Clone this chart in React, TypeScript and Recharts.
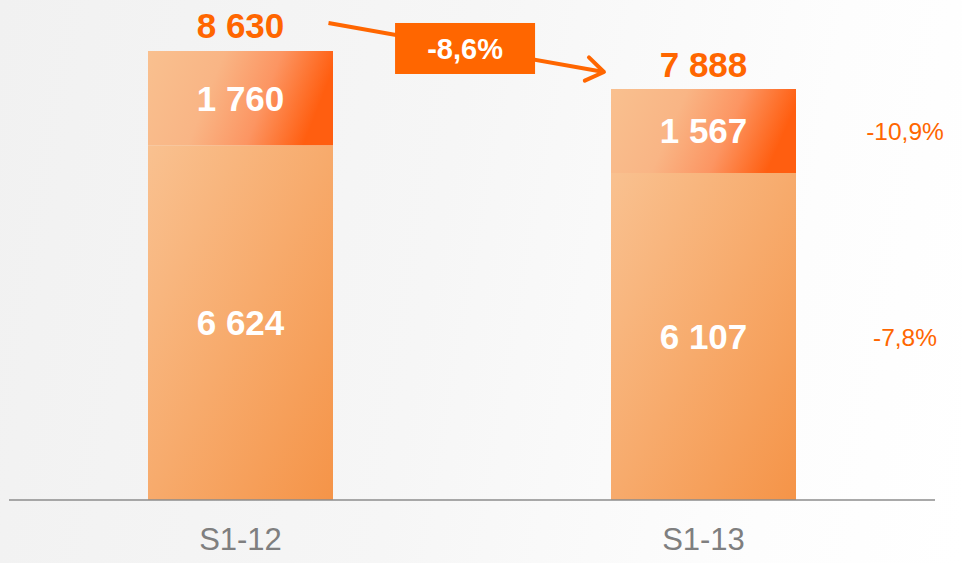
import React from 'react';
import { BarChart, Bar, XAxis, YAxis, LabelList, ReferenceLine } from 'recharts';

const categories = ['S1-12', 'S1-13'];
const baseValues = [6624, 6107];
const topValues = [1760, 1567];
const totalLabels = ['8 630', '7 888'];
const baseChangeLabels = ['', '-7,8%'];
const topChangeLabels = ['', '-10,9%'];
const overallChange = '-8,6%';
const arrowFrom = { x: 'S1-12', y: 9200 };
const arrowTo = { x: 'S1-13', y: 7660 };

const data = categories.map((cat, i) => ({ cat, base: baseValues[i], top: topValues[i] }));

const ORANGE = '#ff6600';
const FONT = '"Liberation Sans", Arial, sans-serif';

const fmt = (v: number) => String(v).replace(/\B(?=(\d{3})+(?!\d))/g, ' ');

const makeInside = (changes: string[]) => (p: any) => {
  const { x, y, width, height, value, index } = p;
  const cx = x + width / 2;
  const cy = y + height / 2;
  return (
    <g>
      <text x={cx} y={cy} textAnchor="middle" dominantBaseline="central" fill="#ffffff"
        fontFamily={FONT} fontWeight="bold" fontSize={35}>{fmt(value)}</text>
      {changes[index] ? (
        <text x={x + width + 109} y={cy + 1} textAnchor="middle" dominantBaseline="central" fill={ORANGE}
          fontFamily={FONT} fontSize={24.5}>{changes[index]}</text>
      ) : null}
    </g>
  );
};

const TotalLabel = (p: any) => {
  const { x, y, width, index } = p;
  return (
    <text x={x + width / 2} y={y - 25} textAnchor="middle" dominantBaseline="central" fill={ORANGE}
      fontFamily={FONT} fontWeight="bold" fontSize={35}>{totalLabels[index]}</text>
  );
};

const ArrowShape = (p: any) => {
  const { x1, y1, x2, y2 } = p;
  const at = (t: number) => ({ x: x1 + (x2 - x1) * t, y: y1 + (y2 - y1) * t });
  const s = at(0.19);
  const e = at(0.785);
  const m = at(0.485);
  const ang = Math.atan2(e.y - s.y, e.x - s.x);
  const L = 21;
  const a1 = ang + Math.PI - 0.6;
  const a2 = ang + Math.PI + 0.6;
  return (
    <g>
      <line x1={s.x} y1={s.y} x2={e.x} y2={e.y} stroke={ORANGE} strokeWidth={4} />
      <polyline
        points={`${e.x + L * Math.cos(a1)},${e.y + L * Math.sin(a1)} ${e.x},${e.y} ${e.x + L * Math.cos(a2)},${e.y + L * Math.sin(a2)}`}
        fill="none" stroke={ORANGE} strokeWidth={4} strokeLinecap="round" strokeLinejoin="round" />
      <rect x={m.x - 70} y={m.y + 1.2 - 25.5} width={140} height={51} fill={ORANGE} />
      <text x={m.x} y={m.y + 2} textAnchor="middle" dominantBaseline="central" fill="#ffffff"
        fontFamily={FONT} fontWeight="bold" fontSize={29}>{overallChange}</text>
    </g>
  );
};

export default function App() {
  return (
    <div style={{ position: 'absolute', left: 0, top: 0, width: 962, height: 563,
      background: 'linear-gradient(100deg, #f1f1f1 0%, #f6f6f6 45%, #fdfdfd 80%, #ffffff 100%)' }}>
      <BarChart width={962} height={563} data={data} margin={{ top: 18, right: 27, bottom: 0, left: 9 }}>
        <defs>
          <linearGradient id="gBase" x1="0" y1="0" x2="1" y2="1">
            <stop offset="0%" stopColor="#f9c190" />
            <stop offset="100%" stopColor="#f59448" />
          </linearGradient>
          <linearGradient id="gTop" x1="0" y1="0" x2="1" y2="0.2">
            <stop offset="0%" stopColor="#f9c08f" />
            <stop offset="40%" stopColor="#f9b585" />
            <stop offset="70%" stopColor="#fc9562" />
            <stop offset="100%" stopColor="#ff5e10" />
          </linearGradient>
        </defs>
        <XAxis dataKey="cat" height={63} axisLine={{ stroke: '#8c8c8c', strokeWidth: 1.5 }} tickLine={false}
          tickMargin={22} tick={{ fill: '#7f7f7f', fontSize: 31, fontFamily: FONT }} />
        <YAxis hide domain={[0, 9000]} />
        <Bar dataKey="base" stackId="a" fill="url(#gBase)" barSize={185} isAnimationActive={false}>
          <LabelList dataKey="base" content={makeInside(baseChangeLabels)} />
        </Bar>
        <Bar dataKey="top" stackId="a" fill="url(#gTop)" barSize={185} isAnimationActive={false}>
          <LabelList dataKey="top" content={makeInside(topChangeLabels)} />
          <LabelList dataKey="top" content={TotalLabel} />
        </Bar>
        <ReferenceLine segment={[arrowFrom, arrowTo]} ifOverflow="visible" shape={ArrowShape} />
      </BarChart>
    </div>
  );
}
